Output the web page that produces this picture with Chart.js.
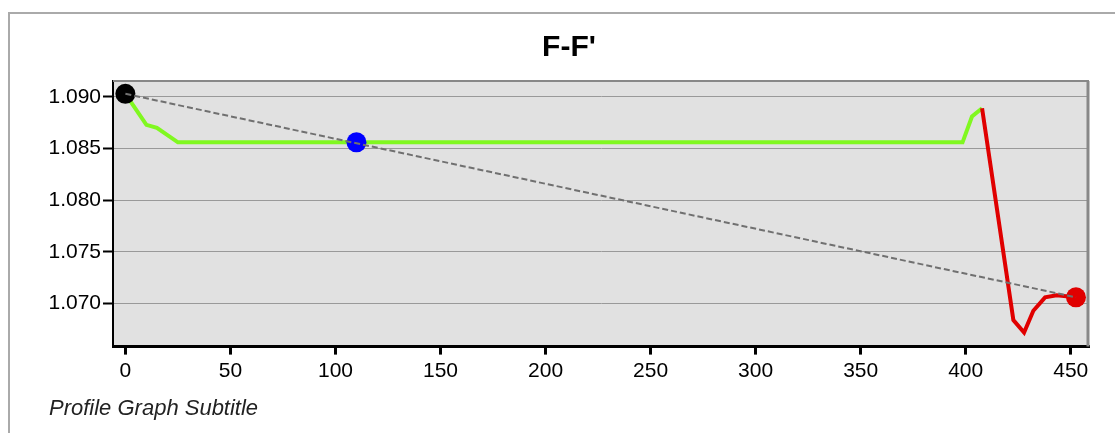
<!DOCTYPE html>
<html>
<head>
<meta charset="utf-8">
<title>F-F' profile</title>
<script src="https://cdn.jsdelivr.net/npm/chart.js@4.4.1/dist/chart.umd.min.js"></script>
<style>
    html, body { margin: 0; padding: 0; background: #ffffff; }
    #wrap { position: relative; width: 1115px; height: 433px; }
</style>
</head>
<body>
<div id="wrap"><canvas id="profileChart"></canvas></div>
<script>
// Profile data (distance along section, value)
const greenX = [0, 10, 15, 25, 398.5, 403, 407.8];
const greenY = [1.0903, 1.0873, 1.0870, 1.0856, 1.0856, 1.0881, 1.0889];

const redX = [407.8, 422.7, 427.8, 432.2, 437.8, 443.3, 452.5];
const redY = [1.0889, 1.0684, 1.0672, 1.0693, 1.0706, 1.0708, 1.0706];

// Straight reference line between the two ends
const refX = [0, 452.5];
const refY = [1.0903, 1.0706];

// Marker points: start, middle, end
const markerX = [0, 110, 452.5];
const markerY = [1.0903, 1.0856, 1.0706];
const markerColors = ['#000000', '#0000ff', '#e00000'];

// Axis ranges and ticks
const xMin = -5.9, xMax = 458.7, xStep = 50;
const yMin = 1.06583, yMax = 1.09154, yStep = 0.005;

const FONT = "'Liberation Sans', Arial, sans-serif";

function toPoints(xs, ys) {
    return xs.map((x, i) => ({ x: x, y: ys[i] }));
}

// Grey plot background, page frame and top/right plot border
const plotFrame = {
    id: 'plotFrame',
    beforeDraw(chart) {
        const { ctx, chartArea: a } = chart;
        ctx.save();
        ctx.strokeStyle = '#aaaaaa';
        ctx.lineWidth = 2;
        ctx.beginPath();
        ctx.moveTo(9, chart.height);
        ctx.lineTo(9, 13);
        ctx.lineTo(chart.width, 13);
        ctx.stroke();
        ctx.fillStyle = '#e1e1e1';
        ctx.fillRect(a.left, a.top, a.right - a.left, a.bottom - a.top);
        ctx.restore();
    },
    beforeDatasetsDraw(chart) {
        const { ctx, chartArea: a } = chart;
        ctx.save();
        ctx.strokeStyle = '#888888';
        ctx.lineWidth = 2;
        ctx.beginPath();
        ctx.moveTo(a.left, a.top);
        ctx.lineTo(a.right, a.top);
        ctx.stroke();
        ctx.lineWidth = 3;
        ctx.beginPath();
        ctx.moveTo(a.right - 1, a.top);
        ctx.lineTo(a.right - 1, a.bottom);
        ctx.stroke();
        ctx.restore();
    }
};

let profileChart;

function initProfileChart() {
    const ctx = document.getElementById('profileChart');
    if (!ctx) return;

    profileChart = new Chart(ctx, {
        type: 'scatter',
        data: {
            datasets: [
                {
                    label: 'Reference',
                    data: toPoints(refX, refY),
                    showLine: true,
                    borderColor: '#707070',
                    borderWidth: 2,
                    borderDash: [6, 3],
                    pointRadius: 0,
                    order: 0
                },
                {
                    label: 'Markers',
                    data: toPoints(markerX, markerY),
                    showLine: false,
                    pointRadius: 10,
                    pointBorderWidth: 0,
                    backgroundColor: markerColors,
                    borderColor: markerColors,
                    order: 1
                },
                {
                    label: 'Descent',
                    data: toPoints(redX, redY),
                    showLine: true,
                    borderColor: '#e00000',
                    borderWidth: 4,
                    pointRadius: 0,
                    order: 2
                },
                {
                    label: 'Profile',
                    data: toPoints(greenX, greenY),
                    showLine: true,
                    borderColor: '#80f820',
                    borderWidth: 4,
                    pointRadius: 0,
                    order: 3
                }
            ]
        },
        options: {
            responsive: true,
            maintainAspectRatio: false,
            animation: false,
            layout: {
                padding: { left: 49, right: 26, top: 11, bottom: 11 }
            },
            plugins: {
                legend: { display: false },
                tooltip: { enabled: false },
                title: {
                    display: true,
                    text: "F-F'",
                    color: '#000000',
                    font: { family: FONT, size: 30, weight: 'bold' },
                    padding: { top: 19, bottom: 15 }
                },
                subtitle: {
                    display: true,
                    position: 'bottom',
                    align: 'start',
                    text: 'Profile Graph Subtitle',
                    color: '#222222',
                    font: { family: FONT, size: 22, style: 'italic' },
                    padding: { top: 0, bottom: 0 }
                }
            },
            scales: {
                x: {
                    type: 'linear',
                    min: xMin,
                    max: xMax,
                    afterFit(scale) { scale.height = 49; },
                    ticks: {
                        stepSize: xStep,
                        includeBounds: false,
                        color: '#000000',
                        padding: 4,
                        maxRotation: 0,
                        font: { family: FONT, size: 21 }
                    },
                    grid: {
                        drawOnChartArea: false,
                        drawTicks: true,
                        tickLength: 8,
                        tickColor: '#000000',
                        tickWidth: 3
                    },
                    border: { color: '#000000', width: 3 }
                },
                y: {
                    type: 'linear',
                    min: yMin,
                    max: yMax,
                    afterFit(scale) { scale.width = 64; },
                    ticks: {
                        stepSize: yStep,
                        includeBounds: false,
                        color: '#000000',
                        padding: 2,
                        font: { family: FONT, size: 21 },
                        callback: (v) => Number(v).toFixed(3)
                    },
                    grid: {
                        color: '#999999',
                        lineWidth: 1,
                        tickLength: 10,
                        tickColor: '#000000',
                        tickWidth: 2
                    },
                    border: { color: '#000000', width: 2 }
                }
            }
        },
        plugins: [plotFrame]
    });
}

initProfileChart();
</script>
</body>
</html>
